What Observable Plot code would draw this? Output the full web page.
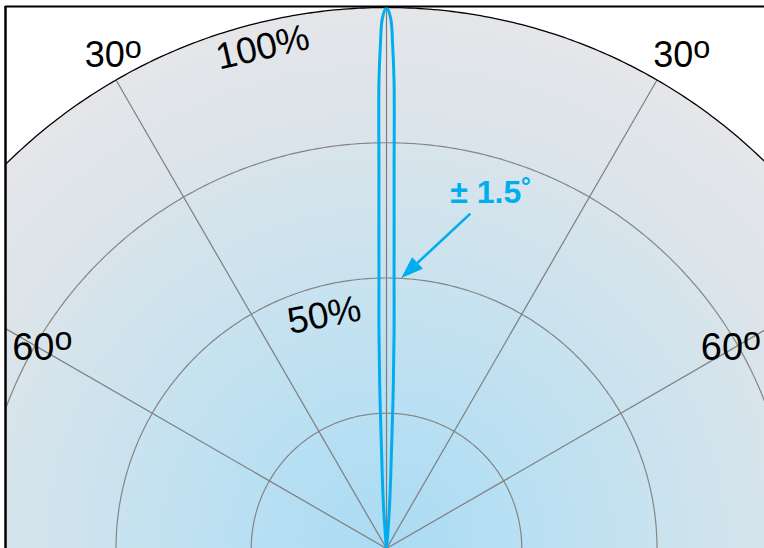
<!DOCTYPE html>
<html><head><meta charset="utf-8">
<script src="https://cdn.jsdelivr.net/npm/d3@7"></script>
<script src="https://cdn.jsdelivr.net/npm/@observablehq/plot@0.6"></script>
<style>html,body{margin:0;padding:0;background:#fff;overflow:hidden}</style>
</head><body><div id="chart"></div>
<script>
// ---- data ----
const ringLevels = [25, 50, 75, 100];                 // % relative intensity circles
const spokeAngles = [-90, -60, -30, 0, 30, 60, 90];   // degrees
const beamAngles =    [-6, -4.8, -3.9, -2.8, -2.4, -2.0, -1.6, -1.3, -1.12, -1.04, -0.92, -0.7, -0.45, 0, 0.45, 0.7, 0.92, 1.04, 1.12, 1.3, 1.6, 2.0, 2.4, 2.8, 3.9, 4.8, 6];
const beamIntensity = [0, 3, 9, 20, 30, 40, 50, 62, 71.7, 79, 86.5, 93, 98, 100, 98, 93, 86.5, 79, 71.7, 62, 50, 40, 30, 20, 9, 3, 0];
const angleLabelText = ["30", "30", "60", "60"];
const levelLabelText = ["100%", "50%"];
const beamLabelText = "± 1.5˚";

// ---- annotation placement (data units) ----
const angleLabelX = [-55.8, 49.3, -69.2, 58.1];
const angleLabelY = [91.1, 91.1, 37.15, 37.15];
const angleLabelSize = [36, 36, 38, 38];
const levelLabelX = [-22.9, -11.5];
const levelLabelY = [92.6, 43.1];
const levelLabelRotate = [-13, -11];
const beamLabelPos = {x: 11.8, y: 65.7};
const arrowFrom = {x: 15.5, y: 61.9};
const arrowTo = {x: 2.9, y: 50.15};

const xDomain = [-70.43, 69.87];
const yDomain = [0, 100.18];

const rad = d => d * Math.PI / 180;
const polar = (a, r) => ({x: r * Math.sin(rad(a)), y: r * Math.cos(rad(a))});
const arc = r => d3.range(-90, 90.001, 0.5).map(a => ({...polar(a, r), r}));
const diskPts = arc(100);
const innerRings = ringLevels.filter(r => r < 100).flatMap(arc);
const outerRing = arc(d3.max(ringLevels));
const spokes = spokeAngles.map(a => ({a, ...polar(a, 100)}));
const beam = beamAngles.map((a, i) => polar(a, beamIntensity[i]));

const angleLabels = angleLabelText.map((t, i) => ({t, x: angleLabelX[i], y: angleLabelY[i], s: angleLabelSize[i]}));

// arrow head (triangle) in data space (x/y scales are isotropic)
const dxA = arrowTo.x - arrowFrom.x, dyA = arrowTo.y - arrowFrom.y;
const lenA = Math.hypot(dxA, dyA);
const ux = dxA / lenA, uy = dyA / lenA;
const headL = 3.8, headW = 1.35;
const base = {x: arrowTo.x - ux * headL, y: arrowTo.y - uy * headL};
const headTri = [
  arrowTo,
  {x: base.x - uy * headW, y: base.y + ux * headW},
  {x: base.x + uy * headW, y: base.y - ux * headW},
  arrowTo
];

const blue = "#00aeef";

const chart = Plot.plot({
  width: 764,
  height: 548,
  marginLeft: 5, marginTop: 6, marginRight: 0, marginBottom: 0,
  x: {domain: xDomain, axis: null},
  y: {domain: yDomain, axis: null},
  style: {fontFamily: "'Liberation Sans', Arial, Helvetica, sans-serif", background: "#fff"},
  marks: [
    Plot.line(diskPts, {x: "x", y: "y", fill: "url(#diskGrad)", stroke: "none", clip: true}),
    Plot.line(innerRings, {x: "x", y: "y", z: "r", stroke: "#858585", strokeWidth: 1.2, clip: true}),
    Plot.link(spokes, {x1: () => 0, y1: () => 0, x2: "x", y2: "y", stroke: "#7d7d7d", strokeWidth: 1.2, clip: true}),
    Plot.line(outerRing, {x: "x", y: "y", stroke: "#000", strokeWidth: 1.3, clip: true}),
    Plot.line(beam, {x: "x", y: "y", stroke: blue, strokeWidth: 3, curve: "catmull-rom", clip: true}),
    ...angleLabels.map(d => Plot.text([d], {x: "x", y: "y", text: d => d.t + "º", textAnchor: "start", fontSize: d.s, fill: "#000"})),
    ...levelLabelText.map((t, i) => Plot.text([t], {x: () => levelLabelX[i], y: () => levelLabelY[i], text: d => d, rotate: levelLabelRotate[i], fontSize: 37, fill: "#000"})),
    Plot.text([beamLabelText], {x: () => beamLabelPos.x, y: () => beamLabelPos.y, text: d => d, textAnchor: "start", fontSize: 32, fontWeight: "bold", fill: blue}),
    Plot.link([{from: arrowFrom, to: base}], {x1: d => d.from.x, y1: d => d.from.y, x2: d => d.to.x, y2: d => d.to.y, stroke: blue, strokeWidth: 2.6}),
    Plot.line(headTri, {x: "x", y: "y", fill: blue, stroke: blue, strokeWidth: 1}),
    Plot.ruleX([xDomain[0]], {stroke: "#000", strokeWidth: 2.5}),
    Plot.ruleY([yDomain[1]], {stroke: "#000", strokeWidth: 2})
  ]
});

// radial gradient for the half disk, positioned from the scales
const xs = chart.scale("x"), ys = chart.scale("y");
const cx = xs.apply(0), cy = ys.apply(0), R = xs.apply(100) - xs.apply(0);
const defs = d3.select(chart).insert("defs", ":first-child");
const grad = defs.append("radialGradient").attr("id", "diskGrad")
  .attr("gradientUnits", "userSpaceOnUse").attr("cx", cx).attr("cy", cy).attr("r", R);
[[0, "#aadbf4"], [0.3, "#bbe0f2"], [0.55, "#cce3ee"], [0.8, "#dce4ea"], [1, "#e5e6e9"]]
  .forEach(([o, c]) => grad.append("stop").attr("offset", o).attr("stop-color", c));

// superscript "o" for the angle labels
d3.select(chart).selectAll("text").each(function() {
  const el = this;
  const m = /^(\d+)º$/.exec(el.textContent);
  if (m) {
    el.textContent = m[1];
    d3.select(el).append("tspan").attr("font-size", "0.85em").attr("dy", "-0.3em").text("o");
  }
});

document.getElementById("chart").appendChild(chart);
</script>
</body></html>
